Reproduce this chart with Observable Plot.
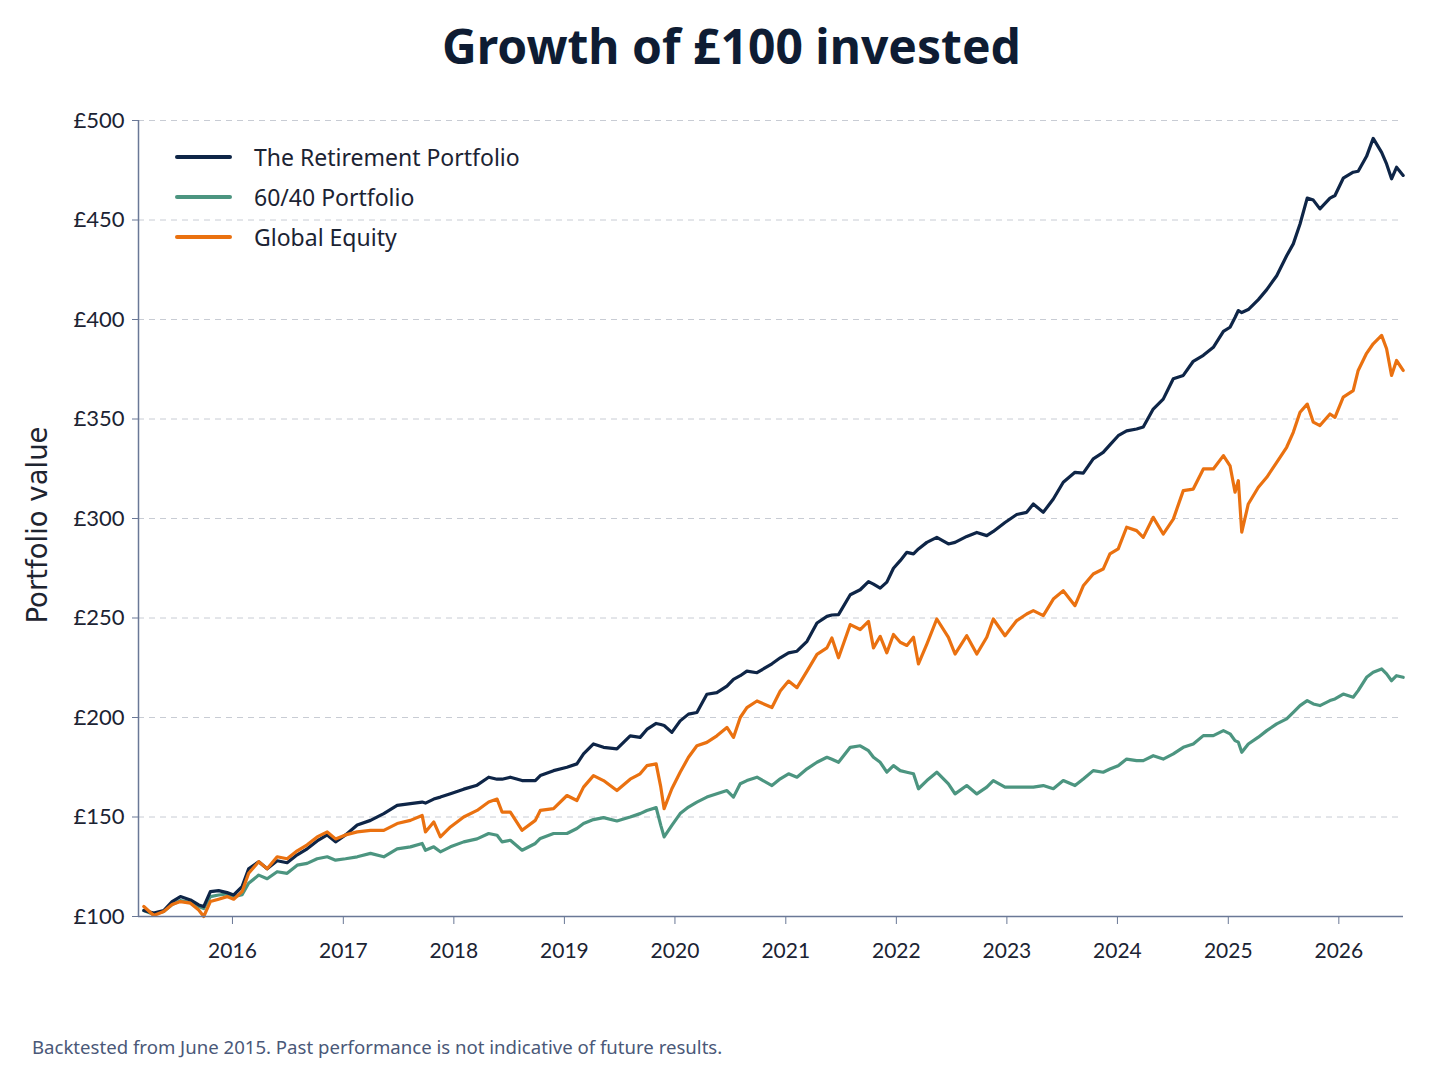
<!DOCTYPE html>
<html>
<head>
<meta charset="utf-8">
<script src="https://cdn.jsdelivr.net/npm/d3@7"></script>
<script src="https://cdn.jsdelivr.net/npm/@observablehq/plot@0.6"></script>
<style>
  html, body { margin: 0; padding: 0; background: #ffffff; }
  #wrap { position: relative; width: 1448px; height: 1086px; background: #ffffff; overflow: hidden; }
  #title { position: absolute; left: 0; top: 22px; width: 1463px; text-align: center;
           font-family: "Noto Sans", sans-serif; font-weight: 700; font-size: 48px; line-height: 48px; color: #0e1c33; }
  #ylabel { position: absolute; left: 37px; top: 525px; transform: translate(-50%, -50%) rotate(-90deg);
            font-family: "DejaVu Sans", sans-serif; font-size: 27.5px; color: #1e2430; white-space: nowrap; }
  #legend { position: absolute; left: 175px; top: 137px; font-family: "Noto Sans", sans-serif; font-size: 23px; color: #1b2333; }
  .item { display: flex; align-items: center; height: 40px; }
  .swatch { width: 57px; height: 4px; border-radius: 2px; margin-right: 22px; }
  #caption { position: absolute; left: 32px; top: 1034px; font-family: "Noto Sans", sans-serif; font-size: 18.6px; color: #4a5878; }
  #chart { position: absolute; left: 0; top: 0; }
</style>
</head>
<body>
<div id="wrap">
  <div id="chart"></div>
  <div id="title">Growth of £100 invested</div>
  <div id="ylabel">Portfolio value</div>
  <div id="legend"></div>
  <div id="caption">Backtested from June 2015. Past performance is not indicative of future results.</div>
</div>
<script>
// Decimal-year positions of the sampled points
const dates = [
  2015.198, 2015.288, 2015.378, 2015.454, 2015.529, 2015.620, 2015.695, 2015.740, 2015.800, 2015.875,
  2015.951, 2016.011, 2016.087, 2016.146, 2016.237, 2016.313, 2016.403, 2016.493, 2016.584, 2016.674,
  2016.764, 2016.855, 2016.930, 2017.020, 2017.126, 2017.246, 2017.366, 2017.487, 2017.607, 2017.713,
  2017.743, 2017.818, 2017.878, 2017.969, 2018.089, 2018.210, 2018.315, 2018.391, 2018.436, 2018.511,
  2018.617, 2018.737,
  2018.782, 2018.902, 2019.023, 2019.113, 2019.173, 2019.263, 2019.354, 2019.475, 2019.595, 2019.685,
  2019.746, 2019.830, 2019.872, 2019.902, 2019.972, 2020.047, 2020.122, 2020.198, 2020.288, 2020.378,
  2020.469, 2020.528, 2020.589, 2020.649, 2020.740, 2020.875, 2020.950, 2021.025, 2021.101, 2021.192,
  2021.282, 2021.372, 2021.417, 2021.477, 2021.583, 2021.673, 2021.748, 2021.793, 2021.854, 2021.914,
  2021.974,
  2022.035, 2022.095, 2022.155, 2022.200, 2022.276, 2022.366, 2022.471, 2022.531, 2022.637, 2022.728,
  2022.818, 2022.877, 2022.983, 2023.089, 2023.179, 2023.239, 2023.329, 2023.420, 2023.510, 2023.616,
  2023.691, 2023.781, 2023.871, 2023.932, 2024.007, 2024.083, 2024.173, 2024.233, 2024.323, 2024.413,
  2024.504, 2024.594, 2024.684, 2024.775, 2024.865, 2024.956, 2025.016, 2025.061, 2025.091, 2025.122,
  2025.181, 2025.272, 2025.348, 2025.438, 2025.528, 2025.588, 2025.649, 2025.714, 2025.769, 2025.829,
  2025.920, 2025.965, 2026.040, 2026.130, 2026.175, 2026.251, 2026.311, 2026.387, 2026.432, 2026.477,
  2026.522, 2026.582
];

const retirement = [
  103, 101.7, 103, 107.5, 110, 108.3, 105.8, 105, 112.5, 113,
  112, 110.8, 115, 124, 127.5, 124, 128, 127, 131, 134,
  138, 141, 137.5, 141, 146, 148.3, 151.7, 155.8, 156.7, 157.5,
  157, 159, 160, 161.7, 164, 166, 170, 169, 169, 170,
  168.3, 168.3,
  170.8, 173.3, 175, 176.7, 181.7, 186.7, 185, 184.2, 190.8, 190,
  194, 197, 196.5, 196, 192.5, 198.3, 201.7, 202.5, 211.7, 212.5,
  215.8, 219.2, 221, 223.3, 222.5, 227, 230, 232.5, 233.3, 238.3,
  247.5, 250.8, 251.5, 251.7, 261.7, 264.2, 268.3, 267, 265, 268,
  275,
  278.8, 283, 282.2, 284.7, 288, 290.5, 287.2, 288, 291, 293,
  291.4, 293.5, 298, 302, 303.1, 307.3, 303.1, 309.8, 318.2, 323.2,
  322.8, 330, 333.2, 337, 341.6, 344, 345, 346, 355, 360,
  370.2, 371.9, 379, 382, 386, 394, 396.1, 401, 404.5, 403.5,
  405, 410, 415, 422, 432, 438, 448, 461, 460, 455.6,
  461, 462.3, 471, 474, 474.5, 482, 491, 484, 478.2, 470.7,
  476.5, 472.4
];

const sixtyForty = [
  103, 101, 102.5, 106, 108, 107, 105, 104, 110, 110.8,
  111.3, 110, 111, 116.7, 120.8, 119, 122.5, 121.7, 125.8, 126.7,
  129, 130, 128.3, 129, 130, 131.7, 130, 134, 135, 136.7,
  133.3, 135, 132.5, 135, 137.5, 139, 141.7, 140.8, 137.5, 138.3,
  133.3, 136.7,
  139.2, 141.7, 141.7, 144.2, 146.7, 148.7, 149.7, 148, 150, 151.7,
  153.3, 154.7, 145.8, 140, 145.8, 151.7, 155, 157.5, 160, 161.7,
  163.3, 160, 166.7, 168.3, 170, 165.8, 169.2, 171.7, 170, 174.2,
  177.5, 180, 179, 177.5, 185, 185.8, 183.3, 180, 177.5, 172.5,
  175.8,
  173.3, 172.5, 171.7, 164.2, 168.3, 172.5, 166.6, 161.6, 165.8, 161.6,
  165, 168.3, 165, 165, 165, 165, 165.8, 164.2, 168.3, 165.8,
  169.1, 173.3, 172.5, 174.1, 175.8, 179.1, 178.3, 178.3, 180.8, 179.1,
  181.7, 185, 186.7, 190.9, 190.9, 193.4, 191.8, 188.4, 187.6, 182.5,
  186.7, 190.1, 193.4, 196.8, 199.3, 202.6, 206, 208.5, 206.8, 206,
  208.5, 209.3, 211.8, 210.2, 213.5, 220.2, 222.7, 224.4, 221.9, 218.5,
  221, 220.2
];

const globalEquity = [
  105, 100.5, 102.5, 106, 107.5, 106.7, 103.3, 100, 107.5, 108.7,
  110, 108.7, 112.5, 121.7, 127.5, 124, 130, 129, 133, 136,
  140, 142.5, 139, 141, 142.5, 143.3, 143.3, 146.7, 148.3, 150.8,
  142.5, 147.5, 140, 145, 150, 153.3, 157.5, 159, 152.5, 152.5,
  143.3, 148.3,
  153.3, 154.2, 160.8, 158.3, 165, 170.8, 168.3, 163.3, 169, 171.7,
  175.8, 176.7, 165, 154.2, 164.2, 172.5, 180, 185.8, 187.5, 190.8,
  195, 190, 200, 205, 208.3, 205, 213.3, 218.3, 215, 223.3,
  231.7, 235, 240, 230, 246.7, 244.2, 248.3, 235, 240.8, 232.5,
  241.7,
  237.8, 236.2, 240.3, 226.9, 236.9, 249.5, 240.3, 231.9, 241.1, 231.9,
  240.3, 249.5, 241.1, 248.7, 252, 253.7, 251.2, 259.5, 263.7, 256.2,
  266.2, 272.1, 274.6, 282.2, 284.7, 295.6, 293.9, 290.5, 300.6, 292.2,
  299.7, 314, 314.8, 324.9, 324.9, 331.6, 326.5, 313.2, 319, 293.1,
  307.3, 315.7, 320.7, 328.2, 335.8, 343.3, 353.4, 357.5, 348.4, 346.7,
  352.5, 350.8, 361, 364.3, 374.4, 383, 387.8, 392, 385.3, 371.9,
  379.4, 374.4
];

const seriesNames = ["The Retirement Portfolio", "60/40 Portfolio", "Global Equity"];
const seriesColors = ["#0e2547", "#4c9580", "#ea7110"];
const yTicks = [100, 150, 200, 250, 300, 350, 400, 450, 500];
const yearTicks = [2016, 2017, 2018, 2019, 2020, 2021, 2022, 2023, 2024, 2025, 2026];
const xExtent = [2015.15, 2026.585];

function toDate(y) {
  const yr = Math.floor(y);
  const a = Date.UTC(yr, 0, 1), b = Date.UTC(yr + 1, 0, 1);
  return new Date(a + (y - yr) * (b - a));
}

const valuesBySeries = [retirement, sixtyForty, globalEquity];
const rows = [];
// draw order: 60/40, Retirement, Global Equity
[1, 0, 2].forEach(k => {
  dates.forEach((d, i) => rows.push({date: toDate(d), value: valuesBySeries[k][i], series: seriesNames[k]}));
});

const axisColor = "#6a7896";

const chart = Plot.plot({
  width: 1448,
  height: 1000,
  marginLeft: 138,
  marginRight: 45,
  marginTop: 120,
  marginBottom: 84,
  style: {fontFamily: "Lato, sans-serif", background: "transparent", color: "#1b2333"},
  x: {type: "utc", domain: xExtent.map(toDate)},
  y: {domain: [100, 500]},
  color: {domain: seriesNames, range: seriesColors},
  marks: [
    Plot.gridY(yTicks, {stroke: "#c8ccd4", strokeOpacity: 1, strokeDasharray: "6,5", strokeWidth: 1}),
    Plot.line(rows, {x: "date", y: "value", z: "series", stroke: "series", strokeWidth: 3.2, strokeLinejoin: "round", strokeLinecap: "round"}),
    Plot.ruleX([toDate(xExtent[0])], {stroke: axisColor, strokeWidth: 1.5}),
    Plot.ruleY([100], {stroke: axisColor, strokeWidth: 1.5}),
    Plot.axisY(yTicks, {tickFormat: d => "£" + d, tickSize: 6, tickPadding: 8, fontSize: 22, label: null, stroke: axisColor, color: "#1b2333"}),
    Plot.axisX(yearTicks.map(y => toDate(y)), {tickFormat: d => String(d.getUTCFullYear()), tickSize: 8, tickPadding: 19, fontSize: 21, label: null, stroke: axisColor, color: "#1b2333"})
  ]
});
document.getElementById("chart").appendChild(chart);

const legend = document.getElementById("legend");
seriesNames.forEach((name, i) => {
  const item = document.createElement("div");
  item.className = "item";
  const sw = document.createElement("div");
  sw.className = "swatch";
  sw.style.background = seriesColors[i];
  const label = document.createElement("span");
  label.textContent = name;
  item.appendChild(sw);
  item.appendChild(label);
  legend.appendChild(item);
});
</script>
</body>
</html>
